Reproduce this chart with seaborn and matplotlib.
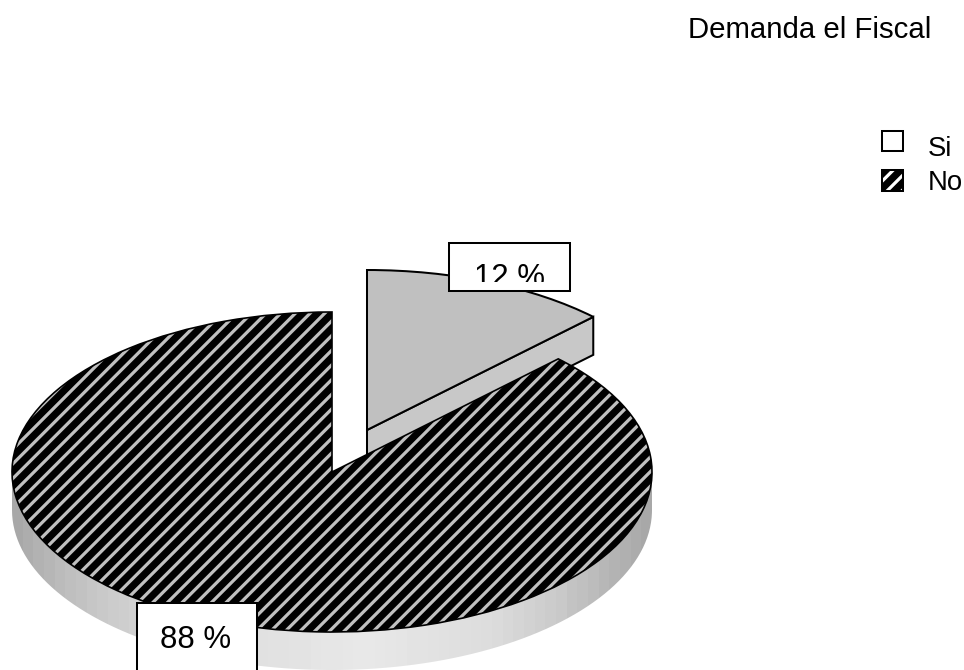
import numpy as np
import matplotlib
matplotlib.use("Agg")
import matplotlib.pyplot as plt
from matplotlib.patches import Patch, PathPatch, Rectangle
from matplotlib.path import Path
import seaborn as sns

# Data
labels = ["Si", "No"]
values = [12.5, 87.5]
value_labels = ["12 %", "88 %"]
title = "Demanda el Fiscal"

# side shading, left to right over the pie width
shade_pos = [0.0, 0.075, 0.14, 0.19, 0.39, 0.55, 0.76, 0.86, 0.93, 1.0]
shade_gray = [0.66, 0.74, 0.79, 0.82, 0.88, 0.91, 0.86, 0.79, 0.72, 0.66]

W, H, DPI = 964, 670, 132
RX, RY = 320.0, 160.0  # pie radius in pixels
DEPTH = 38.0 / RY

sns.set_theme(style="white")
plt.rcParams["font.family"] = ["Liberation Sans", "DejaVu Sans"]
plt.rcParams["hatch.linewidth"] = 3.9


def px(x):
    return x / RX


def py(y):
    return (H - y) / RY


fig = plt.figure(figsize=(W / DPI, H / DPI), dpi=DPI)
ax = fig.add_axes([0, 0, 1, 1])

main_center = (px(332), py(472))
slice_center = (px(367), py(430))
edge = dict(edgecolor="black", linewidth=1.1)

# Exploded slice: side wall first, then the top
end_angle = np.deg2rad(90 - 360 * values[0] / sum(values))
ex = slice_center[0] + np.cos(end_angle)
ey = slice_center[1] + np.sin(end_angle)
ax.fill([slice_center[0], ex, ex, slice_center[0]],
        [slice_center[1], ey, ey - DEPTH, slice_center[1] - DEPTH],
        facecolor="#c8c8c8", zorder=1, **edge)
top_slice, _ = ax.pie(values, center=slice_center, startangle=90, counterclock=False,
                      colors=["#c0c0c0", "#c0c0c0"], wedgeprops=dict(zorder=2, **edge))
top_slice[1].set_visible(False)

# Side wall of the big slice, with the gradient clipped to it
t = np.linspace(np.pi, 2 * np.pi, 200)
wall_x = main_center[0] + np.cos(t)
wall_y = main_center[1] + np.sin(t)
verts = np.r_[np.c_[wall_x, wall_y - DEPTH], np.c_[wall_x[::-1], wall_y[::-1]]]
wall = PathPatch(Path(verts), transform=ax.transData, facecolor="none", edgecolor="none")
ax.add_patch(wall)
ramp = np.interp(np.linspace(0, 1, 60), shade_pos, shade_gray)
img = ax.imshow(ramp[np.newaxis, :], cmap="gray", vmin=0, vmax=1, aspect="auto", zorder=3,
                extent=(wall_x[0], wall_x[-1], verts[:, 1].min(), main_center[1]),
                interpolation="nearest")
img.set_clip_path(wall)

# Big hatched slice on top
top_main, _ = ax.pie(values, center=main_center, startangle=90, counterclock=False,
                     colors=["#c0c0c0", "#c0c0c0"], hatch=["", "///"],
                     wedgeprops=dict(zorder=4, edgecolor="black", linewidth=0.9))
top_main[0].set_visible(False)

ax.set_aspect("auto")
ax.set_xlim(0, W / RX)
ax.set_ylim(0, H / RY)
ax.axis("off")

# Value labels in white boxes
box_12 = Rectangle((px(449), py(291)), px(121), 48 / RY, facecolor="white", edgecolor="black",
                   linewidth=1.1, zorder=6)
ax.add_patch(box_12)
text_12 = ax.text(px(509.5), py(278), value_labels[0], fontsize=17, ha="center", va="center",
                  zorder=7, color="black", clip_on=True)
clip_12 = Rectangle((px(449), py(282)), px(121), 39 / RY, transform=ax.transData)
text_12.set_clip_path(clip_12)

box_88 = Rectangle((px(137), py(672)), px(120), 69 / RY, facecolor="white", edgecolor="black",
                   linewidth=1.1, zorder=6, clip_on=False)
ax.add_patch(box_88)
ax.text(px(196), py(640), value_labels[1], fontsize=17, ha="center", va="center",
        zorder=7, color="black")

# Title and legend
fig.text(688 / W, 1 - 30 / H, title, fontsize=16, ha="left", va="center", color="black")

handles = [Patch(facecolor="white", edgecolor="black", linewidth=1.1),
           Patch(facecolor="white", edgecolor="black", linewidth=1.1, hatch="///")]
leg = ax.legend(handles, labels, loc="upper left", bbox_to_anchor=(876.5 / W, 1 - 130 / H),
                frameon=False, fontsize=15, handlelength=0.76, handleheight=0.78,
                handletextpad=0.91, labelspacing=0.3, borderpad=0.2, borderaxespad=0,
                labelcolor="black")
# the Si box sits a little higher than its label
si_box = leg.legend_handles[0]
si_box.set_y(si_box.get_y() + 5 * 72 / DPI)

fig.savefig("out.png", dpi=DPI)
